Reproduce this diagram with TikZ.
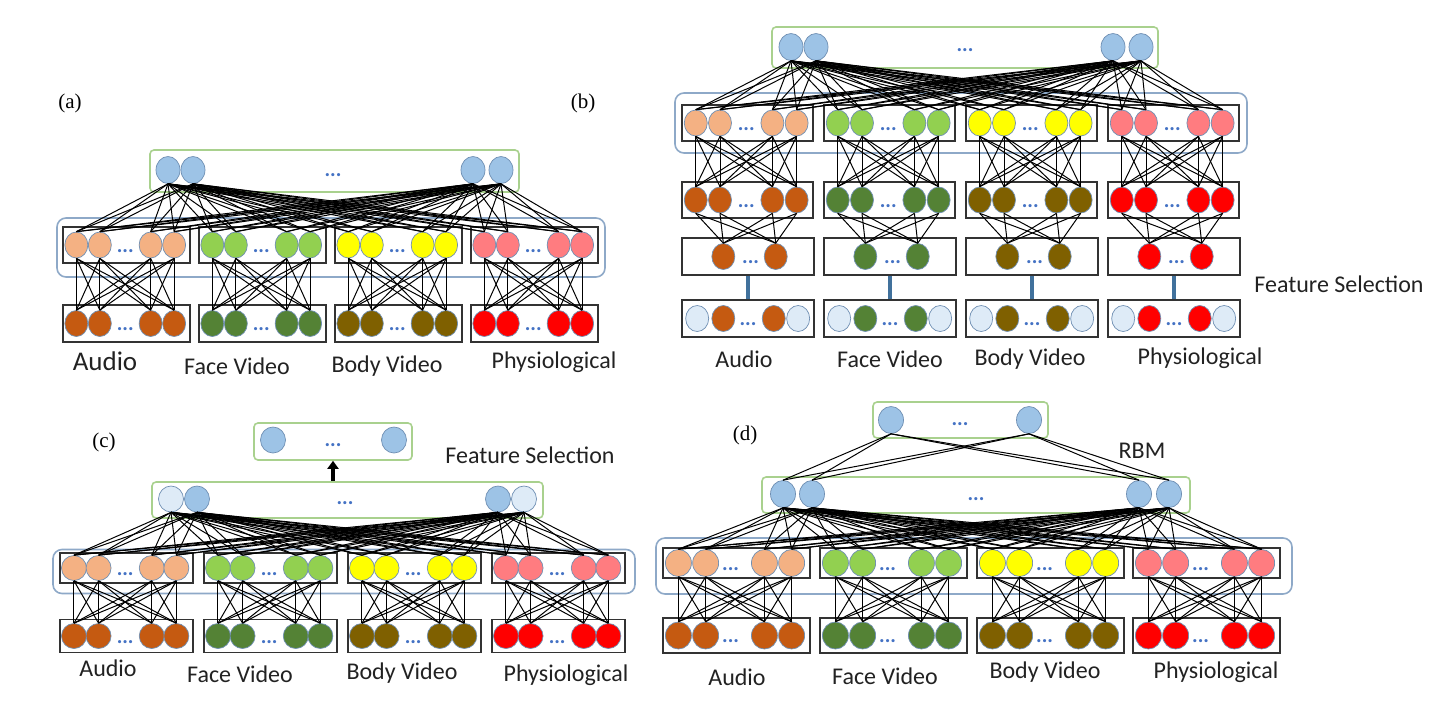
\documentclass[tikz,border=0pt]{standalone}
\usepackage{fontspec}
\setmainfont{Carlito}
\newfontfamily\panelfont{Liberation Serif}
\usepackage{xcolor}
\definecolor{hidBlue}{HTML}{9DC3E6}
\definecolor{lightUnit}{HTML}{DEEBF7}
\definecolor{neuronEdge}{HTML}{6F8FB3}
\definecolor{greenEdge}{HTML}{A9D18E}
\definecolor{blueEdge}{HTML}{8EA9C8}
\definecolor{boxEdge}{HTML}{333333}
\definecolor{dotBlue}{HTML}{4472C4}
\definecolor{selBlue}{HTML}{41719C}
\definecolor{labelGray}{HTML}{222222}
\definecolor{audLight}{HTML}{F4B183}
\definecolor{audDark}{HTML}{C55A11}
\definecolor{faceLight}{HTML}{92D050}
\definecolor{faceDark}{HTML}{548235}
\definecolor{bodyLight}{HTML}{FFFF00}
\definecolor{bodyDark}{HTML}{7F6000}
\definecolor{physLight}{HTML}{FF7C80}
\definecolor{physDark}{HTML}{FF0000}
\usepackage{tikz}
\usetikzlibrary{shapes.geometric,arrows.meta}
\tikzset{%
  neuron/.style={%
    ellipse,
    draw=neuronEdge,
    line width=0.7pt,
    minimum width=23pt,
    minimum height=26pt,
    inner sep=0pt
  },
  groupbox/.style={%
    rectangle,
    draw=boxEdge,
    line width=1.6pt
  },
  topbox/.style={%
    rectangle,
    rounded corners=4pt,
    draw=greenEdge,
    line width=1.6pt
  },
  sharedbox/.style={%
    rectangle,
    rounded corners=9pt,
    draw=blueEdge,
    line width=1.6pt
  },
  dotsmark/.style={%
    text=dotBlue,
    font=\fontsize{21}{21}\selectfont\bfseries,
    inner sep=0pt
  },
  wire/.style={%
    draw=black,
    line width=1pt
  },
  selLine/.style={%
    draw=selBlue,
    line width=3.2pt
  },
  selArrow/.style={%
    -{Triangle[length=8pt,width=11pt]},
    line width=3.2pt,
    draw=black
  },
  modLabel/.style={%
    text=labelGray,
    font=\fontsize{24}{28}\selectfont,
    inner sep=0pt
  },
  panelLetter/.style={%
    font=\panelfont\fontsize{21}{24}\selectfont,
    inner sep=0pt
  }
}

% one row of units inside a black box
\newcommand{\unitrow}[8]{%
  \node[groupbox, minimum width=#4, minimum height=#5] (#1) at ({#2+#4/2},#3) {};
  \foreach \f [count=\k] in #7
    \node[neuron, fill=#6] (#1-\k) at ({#2+\f*#4},#3) {};
  \node[dotsmark] (#1-dots) at ({#2+#8*#4},{#3+6}) {...};
}
\def\fourpos{0.105,0.29,0.69,0.875}
\def\twopos{0.313,0.71}
\def\twoposin{0.313,0.695}

\begin{document}
\begin{tikzpicture}[x=1pt, y=-1pt]
\useasboundingbox[fill=white] (0,0) rectangle (1447,721);

% ---------------- (a)
\node[panelLetter] (a-name) at (70,103) {(a)};
\node[sharedbox, minimum width=548, minimum height=59] (a-shared) at (331,247.5) {};
\node[topbox, minimum width=369, minimum height=42] (a-top) at (334.5,171) {};
\foreach \x [count=\k] in {168,193,473,501}
  \node[neuron, fill=hidBlue, minimum width=24pt, minimum height=27pt] (a-top-\k) at (\x,170) {};
\node[dotsmark] (a-top-dots) at (333,175) {...};
\foreach \g/\x/\ca/\cb in {1/63/audLight/audDark, 2/199/faceLight/faceDark, 3/335/bodyLight/bodyDark, 4/471/physLight/physDark} {
  \unitrow{a-h\g}{\x}{245}{127}{36}{\ca}{\fourpos}{0.49}
  \unitrow{a-v\g}{\x}{323.5}{127}{37}{\cb}{\fourpos}{0.49}
}
\foreach \g in {1,...,4}
  \foreach \i in {1,...,4}
    \foreach \j in {1,...,4}
      \draw[wire] (a-h\g-\i.south) -- (a-v\g-\j.north);
\foreach \t in {1,...,4}
  \foreach \g in {1,...,4}
    \foreach \i in {1,...,4}
      \draw[wire] (a-top-\t.south) -- (a-h\g-\i.north);
\node[modLabel, font=\fontsize{27}{30}\selectfont] (a-lab1) at (105,361) {Audio};
\node[modLabel] (a-lab2) at (237,366) {Face Video};
\node[modLabel] (a-lab3) at (387,366) {Body Video};
\node[modLabel] (a-lab4) at (554,362) {Physiological};

% ---------------- (b)
\node[panelLetter] (b-name) at (583,103) {(b)};
\node[sharedbox, minimum width=572, minimum height=60] (b-shared) at (961,123) {};
\node[topbox, minimum width=386, minimum height=41] (b-top) at (965,47.5) {};
\foreach \x [count=\k] in {791,816,1113,1141}
  \node[neuron, fill=hidBlue, minimum width=24pt, minimum height=27pt] (b-top-\k) at (\x,47) {};
\node[dotsmark] (b-top-dots) at (965,50) {...};
\foreach \g/\x/\ca/\cb in {1/682/audLight/audDark, 2/824/faceLight/faceDark, 3/966/bodyLight/bodyDark, 4/1108/physLight/physDark} {
  \unitrow{b-h\g}{\x}{123}{131}{36}{\ca}{\fourpos}{0.49}
  \unitrow{b-v\g}{\x}{200}{131}{36}{\cb}{\fourpos}{0.49}
  \unitrow{b-r\g}{\x}{256.5}{132}{37}{\cb}{\twopos}{0.52}
  \unitrow{b-s\g}{\x}{318.5}{132}{37}{\cb}{\twoposin}{0.5}
  \node[neuron, fill=lightUnit] (b-s\g-l) at ({\x+0.115*132},318.5) {};
  \node[neuron, fill=lightUnit] (b-s\g-r) at ({\x+0.88*132},318.5) {};
}
\foreach \g in {1,...,4} {
  \foreach \i in {1,...,4} {
    \foreach \j in {1,...,4}
      \draw[wire] (b-h\g-\i.south) -- (b-v\g-\j.north);
    \foreach \j in {1,2}
      \draw[wire] (b-v\g-\i.south) -- (b-r\g-\j.north);
  }
  \draw[selLine] (b-r\g.south) -- (b-s\g.north);
}
\foreach \t in {1,...,4}
  \foreach \g in {1,...,4}
    \foreach \i in {1,...,4}
      \draw[wire] (b-top-\t.south) -- (b-h\g-\i.north);
\node[modLabel] (b-lab1) at (744,359) {Audio};
\node[modLabel] (b-lab2) at (890,359) {Face Video};
\node[modLabel] (b-lab3) at (1030,359) {Body Video};
\node[modLabel] (b-lab4) at (1200,358) {Physiological};
\node[modLabel] (b-sel) at (1339,284) {Feature Selection};

% ---------------- (c)
\node[panelLetter] (c-name) at (104,442) {(c)};
\node[topbox, minimum width=158, minimum height=37] (c-out) at (333,441.5) {};
\foreach \x [count=\k] in {273,394}
  \node[neuron, fill=hidBlue, minimum width=25pt, minimum height=26pt] (c-out-\k) at (\x,440) {};
\node[dotsmark] (c-out-dots) at (333,445) {...};
\node[sharedbox, minimum width=582, minimum height=44] (c-shared) at (344,571.5) {};
\node[topbox, minimum width=391, minimum height=36] (c-top) at (347.5,500) {};
\foreach \x/\c [count=\k] in {171/lightUnit,197/hidBlue,498/hidBlue,524/lightUnit}
  \node[neuron, fill=\c, minimum width=25pt, minimum height=26pt] (c-top-\k) at (\x,499) {};
\node[dotsmark] (c-top-dots) at (345,503) {...};
\draw[selArrow] (c-out.south |- c-top.north) -- (c-out.south);
\begin{scope}[neuron/.append style={minimum width=25pt, minimum height=25pt}]
\foreach \g/\x/\ca/\cb in {1/60/audLight/audDark, 2/204/faceLight/faceDark, 3/348/bodyLight/bodyDark, 4/492/physLight/physDark} {
  \unitrow{c-h\g}{\x}{568}{133}{30}{\ca}{\fourpos}{0.49}
  \unitrow{c-v\g}{\x}{636}{133}{33}{\cb}{\fourpos}{0.49}
}
\end{scope}
\foreach \g in {1,...,4}
  \foreach \i in {1,...,4}
    \foreach \j in {1,...,4}
      \draw[wire] (c-h\g-\i.south) -- (c-v\g-\j.north);
\foreach \t in {1,...,4}
  \foreach \g in {1,...,4}
    \foreach \i in {1,...,4}
      \draw[wire] (c-top-\t.south) -- (c-h\g-\i.north);
\node[modLabel] (c-lab1) at (108,668) {Audio};
\node[modLabel] (c-lab2) at (240,674) {Face Video};
\node[modLabel] (c-lab3) at (402,673) {Body Video};
\node[modLabel] (c-lab4) at (566,675) {Physiological};
\node[modLabel] (c-sel) at (530,455) {Feature Selection};

% ---------------- (d)
\node[panelLetter] (d-name) at (745,435) {(d)};
\node[topbox, minimum width=175, minimum height=36] (d-rbm) at (960.5,420) {};
\foreach \x [count=\k] in {891,1029}
  \node[neuron, fill=hidBlue, minimum width=25pt, minimum height=27pt] (d-rbm-\k) at (\x,420) {};
\node[dotsmark] (d-rbm-dots) at (960,424) {...};
\node[modLabel] (d-lab0) at (1142,451) {RBM};
\node[topbox, minimum width=428, minimum height=36] (d-top) at (976,495) {};
\foreach \x [count=\k] in {783,812,1139,1169}
  \node[neuron, fill=hidBlue, minimum width=25pt, minimum height=27pt] (d-top-\k) at (\x,494) {};
\node[dotsmark] (d-top-dots) at (976,499) {...};
\node[sharedbox, minimum width=636, minimum height=56] (d-shared) at (974,566) {};
\begin{scope}[neuron/.append style={minimum width=26pt, minimum height=27pt}]
\foreach \g/\x/\ca/\cb in {1/663/audLight/audDark, 2/820/faceLight/faceDark, 3/977/bodyLight/bodyDark, 4/1133/physLight/physDark} {
  \unitrow{d-h\g}{\x}{563}{147}{30}{\ca}{\fourpos}{0.46}
  \unitrow{d-v\g}{\x}{635.5}{147}{35}{\cb}{\fourpos}{0.46}
}
\end{scope}
\foreach \g in {1,...,4}
  \foreach \i in {1,...,4}
    \foreach \j in {1,...,4}
      \draw[wire] (d-h\g-\i.south) -- (d-v\g-\j.north);
\foreach \t in {1,...,4}
  \foreach \g in {1,...,4}
    \foreach \i in {1,...,4}
      \draw[wire] (d-top-\t.south) -- (d-h\g-\i.north);
\foreach \t in {1,2}
  \foreach \i in {1,...,4}
    \draw[wire] (d-rbm-\t.south) -- (d-top-\i.north);
\node[modLabel] (d-lab1) at (737,677) {Audio};
\node[modLabel] (d-lab2) at (885,676) {Face Video};
\node[modLabel] (d-lab3) at (1045,672) {Body Video};
\node[modLabel] (d-lab4) at (1216,672) {Physiological};
\end{tikzpicture}
\end{document}
